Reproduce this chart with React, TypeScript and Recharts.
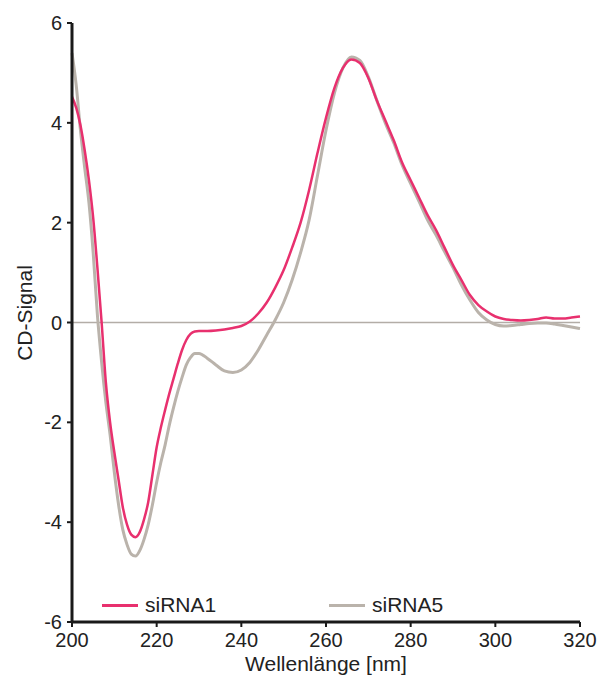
import { LineChart, Line, XAxis, YAxis, ReferenceLine, Legend } from 'recharts';

// wavelength in nm
const wavelength = [
  200, 201, 202, 203, 204, 205, 206, 207, 208, 209, 210, 211, 212, 213, 214, 215, 216, 217, 218, 219,
  220, 221, 222, 223, 224, 225, 226, 227, 228, 229, 230, 232, 234, 236, 238, 240, 242, 244, 246, 248,
  250, 252, 254, 256, 258, 260, 262, 264, 266, 268, 270, 272, 274, 276, 278, 280, 282, 284, 286, 288,
  290, 292, 294, 296, 298, 300, 302, 304, 306, 308, 310, 312, 314, 316, 318, 320,
];

const siRNA1 = [
  4.52, 4.3, 3.95, 3.45, 2.85, 2.1, 1.1, 0.0, -1.2, -2.0, -2.6, -3.15, -3.7, -4.05, -4.25, -4.3, -4.2, -3.95, -3.6, -3.05,
  -2.5, -2.1, -1.75, -1.42, -1.12, -0.82, -0.55, -0.35, -0.23, -0.18, -0.17, -0.17, -0.16, -0.14, -0.11, -0.07, 0.02, 0.18, 0.4, 0.7,
  1.05, 1.5, 2.0, 2.65, 3.4, 4.1, 4.7, 5.1, 5.27, 5.2, 4.9, 4.45, 4.05, 3.65, 3.2, 2.85, 2.5, 2.15, 1.85, 1.5,
  1.15, 0.85, 0.55, 0.35, 0.22, 0.12, 0.07, 0.05, 0.04, 0.05, 0.07, 0.1, 0.08, 0.08, 0.1, 0.12,
];

const siRNA5 = [
  5.4, 4.75, 3.85, 3.1, 2.4, 1.4, 0.15, -0.8, -1.6, -2.25, -3.0, -3.65, -4.15, -4.45, -4.64, -4.68, -4.57, -4.35, -4.05, -3.65,
  -3.2, -2.8, -2.45, -2.05, -1.7, -1.38, -1.1, -0.85, -0.7, -0.62, -0.62, -0.72, -0.85, -0.97, -1.0, -0.95, -0.8, -0.55, -0.25, 0.05,
  0.4, 0.85, 1.4, 2.05, 2.95, 3.85, 4.6, 5.1, 5.32, 5.25, 4.92, 4.45, 4.0, 3.6, 3.15, 2.78, 2.42, 2.05, 1.75, 1.42,
  1.1, 0.75, 0.45, 0.2, 0.05, -0.04, -0.07, -0.06, -0.04, -0.02, -0.01, -0.01, -0.03, -0.06, -0.09, -0.12,
];

const xTicks = [200, 220, 240, 260, 280, 300, 320];
const yTicks = [-6, -4, -2, 0, 2, 4, 6];

const PINK = '#E8306E';
const GRAY = '#BAB3AB';
const AXIS = '#1a1a1a';
const FONT = 'Arial, "Liberation Sans", sans-serif';

const data = wavelength.map((w, i) => ({ w, siRNA1: siRNA1[i], siRNA5: siRNA5[i] }));

const renderLegend = () => (
  <div style={{ display: 'flex', fontFamily: FONT, fontSize: 21, color: '#222' }}>
    {[
      { name: 'siRNA1', color: PINK },
      { name: 'siRNA5', color: GRAY },
    ].map((item) => (
      <div key={item.name} style={{ display: 'flex', alignItems: 'center', width: 227 }}>
        <span style={{ display: 'inline-block', width: 36, height: 3, background: item.color, marginRight: 7 }} />
        <span>{item.name}</span>
      </div>
    ))}
  </div>
);

export default function App() {
  return (
    <div style={{ position: 'absolute', left: 0, top: 0, background: '#fff' }}>
      <LineChart width={608} height={679} data={data} margin={{ top: 23, right: 28, bottom: 7, left: 22 }}>
        <XAxis
          dataKey="w"
          type="number"
          domain={[200, 320]}
          ticks={xTicks}
          height={50}
          axisLine={{ stroke: AXIS, strokeWidth: 3 }}
          tickLine={{ stroke: AXIS, strokeWidth: 2 }}
          tickSize={5}
          tickMargin={6}
          tick={{ fill: '#222', fontSize: 20, fontFamily: FONT }}
          label={{ value: 'Wellenlänge [nm]', position: 'insideBottom', offset: 1, fill: '#222', fontSize: 21, fontFamily: FONT }}
        />
        <YAxis
          type="number"
          domain={[-6, 6]}
          ticks={yTicks}
          width={50}
          axisLine={{ stroke: AXIS, strokeWidth: 3 }}
          tickLine={{ stroke: AXIS, strokeWidth: 2 }}
          tickSize={5}
          tickMargin={5}
          tick={{ fill: '#222', fontSize: 20, fontFamily: FONT }}
          label={{
            content: () => (
              <text x={32} y={313} transform="rotate(-90 32 313)" textAnchor="middle" fill="#222" fontSize={21} fontFamily={FONT}>
                CD-Signal
              </text>
            ),
          }}
        />
        <ReferenceLine y={0} stroke="#B3ADA7" strokeWidth={1.5} />
        <Line type="monotone" dataKey="siRNA5" stroke={GRAY} strokeWidth={3} dot={false} isAnimationActive={false} />
        <Line type="monotone" dataKey="siRNA1" stroke={PINK} strokeWidth={2.5} dot={false} isAnimationActive={false} />
        <Legend
          layout="horizontal"
          verticalAlign="middle"
          align="center"
          content={renderLegend}
          wrapperStyle={{ left: 102, top: 593, width: 460 }}
        />
      </LineChart>
    </div>
  );
}
